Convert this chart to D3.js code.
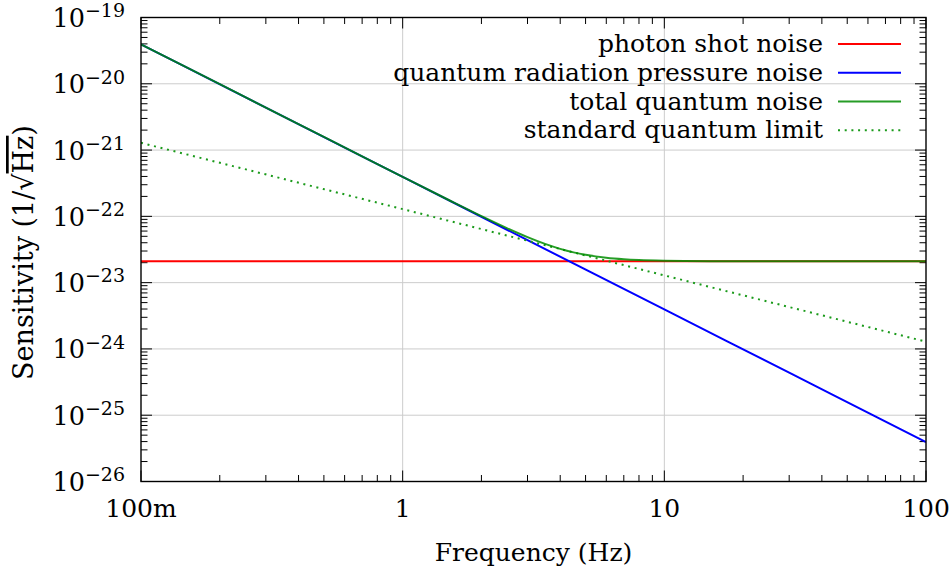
<!DOCTYPE html>
<html>
<head>
<meta charset="utf-8">
<script src="https://cdn.jsdelivr.net/npm/d3@7"></script>
<style>
  html, body { margin: 0; padding: 0; background: #fff; }
  svg { display: block; }
  text { font-family: "DejaVu Serif", serif; fill: #000; }
</style>
</head>
<body>
<svg id="chart" width="952" height="575"></svg>
<script>
// ---- data ----
const xTickValues = [0.1, 1, 10, 100];
const xTickLabels = ["100m", "1", "10", "100"];
const yTickExponents = [-19, -20, -21, -22, -23, -24, -25, -26];

const shotFreq = [0.1, 100];
const shotNoise = [2.1e-23, 2.1e-23];

const rpFreq = [0.1, 0.3, 1, 3, 10, 30, 100];
const rpNoise = [3.94e-20, 4.378e-21, 3.94e-22, 4.378e-23, 3.94e-24, 4.378e-25, 3.94e-26];

const totalFreq = [0.1, 0.2, 0.3, 0.5, 0.7, 1, 1.5, 2, 2.5, 3, 3.5, 4, 4.5, 5, 6, 7, 8, 10, 12, 15, 20, 30, 50, 100];
const totalNoise = [3.94e-20, 9.85e-21, 4.378e-21, 1.576e-21, 8.043e-22, 3.946e-22, 1.764e-22, 1.007e-22,
  6.645e-23, 4.856e-23, 3.841e-23, 3.236e-23, 2.863e-23, 2.626e-23, 2.368e-23, 2.249e-23, 2.188e-23,
  2.137e-23, 2.118e-23, 2.107e-23, 2.102e-23, 2.100e-23, 2.1e-23, 2.1e-23];

const sqlFreq = [0.1, 1, 10, 100];
const sqlNoise = [1.286e-21, 1.286e-22, 1.286e-23, 1.286e-24];

const legendLabels = ["photon shot noise", "quantum radiation pressure noise", "total quantum noise", "standard quantum limit"];

// ---- layout ----
const svg = d3.select("#chart");
const L = 141, R = 926, T = 17.5, B = 481.5;

const x = d3.scaleLog().domain([0.1, 100]).range([L, R]);
const y = d3.scaleLog().domain([1e-26, 1e-19]).range([B, T]);

svg.append("rect").attr("width", 952).attr("height", 575).attr("fill", "#fff");

svg.append("defs").append("clipPath").attr("id", "clip")
  .append("rect").attr("x", L).attr("y", T).attr("width", R - L).attr("height", B - T);

// grid
const grid = svg.append("g").attr("stroke", "#cccccc").attr("stroke-width", 1);
xTickValues.slice(1, -1).forEach(v => {
  grid.append("line").attr("x1", x(v)).attr("x2", x(v)).attr("y1", T).attr("y2", B);
});
yTickExponents.slice(1, -1).forEach(e => {
  const v = Math.pow(10, e);
  grid.append("line").attr("x1", L).attr("x2", R).attr("y1", y(v)).attr("y2", y(v));
});

// ticks (inward, all four sides)
const ticks = svg.append("g").attr("stroke", "#000").attr("stroke-width", 1);
const majorLen = 11, minorLen = 6.5;
const xMinor = [];
[0.1, 1, 10].forEach(d => { for (let k = 2; k <= 9; k++) xMinor.push(d * k); });
xMinor.forEach(v => {
  const px = x(v);
  ticks.append("line").attr("x1", px).attr("x2", px).attr("y1", B).attr("y2", B - minorLen);
  ticks.append("line").attr("x1", px).attr("x2", px).attr("y1", T).attr("y2", T + minorLen);
});
xTickValues.forEach(v => {
  const px = x(v);
  ticks.append("line").attr("x1", px).attr("x2", px).attr("y1", B).attr("y2", B - majorLen);
  ticks.append("line").attr("x1", px).attr("x2", px).attr("y1", T).attr("y2", T + majorLen);
});
const yMinor = [];
for (let e = -26; e < -19; e++) { for (let k = 2; k <= 9; k++) yMinor.push(k * Math.pow(10, e)); }
yMinor.forEach(v => {
  const py = y(v);
  ticks.append("line").attr("x1", L).attr("x2", L + minorLen).attr("y1", py).attr("y2", py);
  ticks.append("line").attr("x1", R).attr("x2", R - minorLen).attr("y1", py).attr("y2", py);
});
yTickExponents.forEach(e => {
  const py = y(Math.pow(10, e));
  ticks.append("line").attr("x1", L).attr("x2", L + majorLen).attr("y1", py).attr("y2", py);
  ticks.append("line").attr("x1", R).attr("x2", R - majorLen).attr("y1", py).attr("y2", py);
});

// series
const plot = svg.append("g").attr("clip-path", "url(#clip)");
function drawSeries(fs, vs, color, opts = {}) {
  const pts = fs.map((f, i) => [f, vs[i]]);
  const line = d3.line().x(d => x(d[0])).y(d => y(d[1])).curve(d3.curveMonotoneX);
  const p = plot.append("path").datum(pts).attr("d", line)
    .attr("fill", "none").attr("stroke", color).attr("stroke-width", opts.width || 2);
  if (opts.dash) p.attr("stroke-dasharray", opts.dash);
  if (opts.opacity) p.attr("stroke-opacity", opts.opacity);
  return p;
}
const colors = ["#ff0000", "#0000ff", "#008c00", "#1a9a1a"];
drawSeries(shotFreq, shotNoise, colors[0]);
drawSeries(rpFreq, rpNoise, colors[1]);
drawSeries(sqlFreq, sqlNoise, colors[3], { dash: "2,4.7" });
drawSeries(totalFreq, totalNoise, colors[2], { opacity: 0.85 });

// frame
svg.append("rect").attr("x", L).attr("y", T).attr("width", R - L).attr("height", B - T)
  .attr("fill", "none").attr("stroke", "#000").attr("stroke-width", 1.4);

// x tick labels
svg.append("g").selectAll("text").data(xTickValues).join("text")
  .attr("x", d => x(d)).attr("y", 517).attr("text-anchor", "middle")
  .attr("font-size", 25)
  .text((d, i) => xTickLabels[i]);

// y tick labels
yTickExponents.forEach(e => {
  const t = svg.append("text").attr("x", 125).attr("y", y(Math.pow(10, e)) + 9.5)
    .attr("text-anchor", "end").attr("font-size", 25.5);
  t.append("tspan").text("10");
  t.append("tspan").attr("font-size", 19).attr("dy", -9.7).text("\u2212" + Math.abs(e));
});

// axis titles
svg.append("text").attr("x", (L + R) / 2).attr("y", 561).attr("text-anchor", "middle")
  .attr("font-size", 25).text("Frequency (Hz)");

const yt = svg.append("text").attr("transform", `translate(33,${(T + B) / 2 + 3}) rotate(-90)`)
  .attr("text-anchor", "middle").attr("font-size", 27);
yt.append("tspan").text("Sensitivity (1/\u221A");
yt.append("tspan").style("text-decoration", "overline").text("Hz");
yt.append("tspan").text(")");

// legend
const legendY = [44, 72.8, 101.5, 130.3];
const lg = svg.append("g");
legendLabels.forEach((lab, i) => {
  lg.append("text").attr("x", 823).attr("y", legendY[i] + 8).attr("text-anchor", "end")
    .attr("font-size", 25).text(lab);
  const ln = lg.append("line").attr("x1", 838).attr("x2", 901).attr("y1", legendY[i]).attr("y2", legendY[i])
    .attr("stroke", colors[i]).attr("stroke-width", 2);
  if (i === 3) ln.attr("stroke-dasharray", "2,4.7");
  if (i === 2) ln.attr("stroke-opacity", 0.85);
});
</script>
</body>
</html>
